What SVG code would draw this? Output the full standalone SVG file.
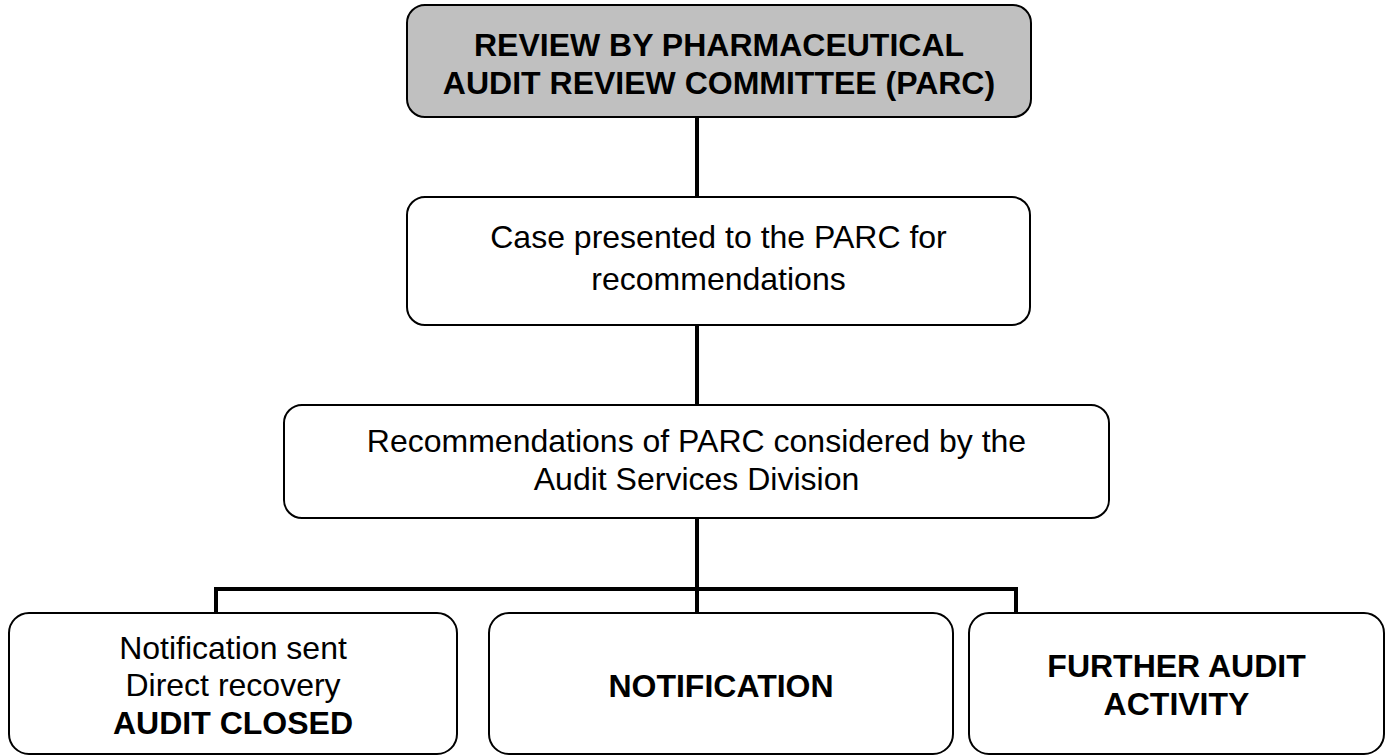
<svg xmlns="http://www.w3.org/2000/svg" width="1392" height="756" viewBox="0 0 1392 756">
  <style>
    .box { fill: #ffffff; stroke: #000000; stroke-width: 2; }
    .head { fill: #c0c0c0; stroke: #000000; stroke-width: 2; }
    .t { font-family: "Liberation Sans", Arial, sans-serif; font-size: 32px; fill: #000000; text-anchor: middle; }
    .b { font-weight: bold; }
    .wire { fill: none; stroke: #000000; stroke-width: 4; stroke-linecap: butt; stroke-linejoin: miter; }
  </style>
  <rect width="1392" height="756" fill="#ffffff"/>

  <!-- connectors -->
  <g id="connectors">
    <line class="wire" x1="697" y1="117" x2="697" y2="197"/>
    <line class="wire" x1="697" y1="325" x2="697" y2="405"/>
    <line class="wire" x1="697" y1="518" x2="697" y2="613"/>
    <polyline class="wire" points="216,613 216,589 1016,589 1016,613"/>
  </g>

  <g id="parc-review">
    <rect class="head" x="407" y="5" width="624" height="112" rx="18" ry="18"/>
    <text class="t b" x="719" y="56">REVIEW BY PHARMACEUTICAL</text>
    <text class="t b" x="719" y="94">AUDIT REVIEW COMMITTEE (PARC)</text>
  </g>

  <g id="case-presented">
    <rect class="box" x="407" y="197" width="623" height="128" rx="18" ry="18"/>
    <text class="t" x="718.5" y="248">Case presented to the PARC for</text>
    <text class="t" x="718.5" y="290">recommendations</text>
  </g>

  <g id="recommendations">
    <rect class="box" x="284" y="405" width="825" height="113" rx="18" ry="18"/>
    <text class="t" x="696.5" y="452">Recommendations of PARC considered by the</text>
    <text class="t" x="696.5" y="490">Audit Services Division</text>
  </g>

  <g id="audit-closed">
    <rect class="box" x="9" y="613" width="448" height="141" rx="20" ry="20"/>
    <text class="t" x="233" y="659">Notification sent</text>
    <text class="t" x="233" y="696">Direct recovery</text>
    <text class="t b" x="233" y="734">AUDIT CLOSED</text>
  </g>

  <g id="notification">
    <rect class="box" x="489" y="613" width="464" height="141" rx="20" ry="20"/>
    <text class="t b" x="721" y="697">NOTIFICATION</text>
  </g>

  <g id="further-audit">
    <rect class="box" x="969" y="613" width="415" height="141" rx="20" ry="20"/>
    <text class="t b" x="1176.5" y="677">FURTHER AUDIT</text>
    <text class="t b" x="1176.5" y="715">ACTIVITY</text>
  </g>
</svg>
